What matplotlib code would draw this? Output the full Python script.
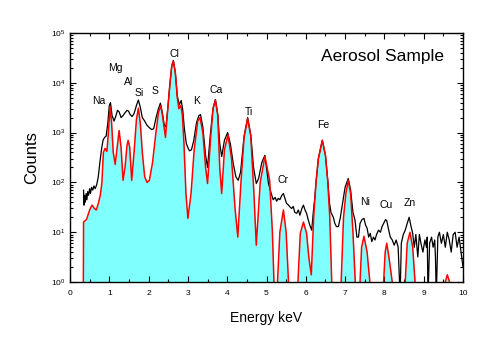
import matplotlib
matplotlib.use("Agg")
import matplotlib.pyplot as plt
from matplotlib.ticker import LogLocator, MultipleLocator

plt.rcParams['font.family'] = ['Liberation Sans', 'DejaVu Sans']

# fitted spectrum (red outline, cyan fill), energy in keV
fit_energy = [0.335, 0.345, 0.42, 0.50, 0.56, 0.62, 0.67, 0.72, 0.77, 0.81, 0.85, 0.89, 0.94,
              0.98, 1.02, 1.06, 1.10, 1.15, 1.20, 1.25, 1.30, 1.35, 1.40, 1.45, 1.48, 1.52,
              1.57, 1.63, 1.69, 1.74, 1.79, 1.84, 1.90, 1.96, 2.02, 2.10, 2.18, 2.25, 2.31,
              2.36, 2.43, 2.48, 2.54, 2.59, 2.63, 2.68, 2.73, 2.77, 2.82, 2.86, 2.90, 2.95,
              3.00, 3.08, 3.16, 3.25, 3.31, 3.38, 3.45, 3.50, 3.58, 3.64, 3.70, 3.76, 3.81,
              3.86, 3.93, 4.02, 4.11, 4.20, 4.27, 4.35, 4.43, 4.52, 4.60, 4.68, 4.74, 4.84,
              4.96, 5.08, 5.15, 5.19, 5.22, 5.28, 5.34, 5.43, 5.50, 5.56, 5.60, 5.76, 5.80,
              5.86, 5.94, 6.02, 6.08, 6.14, 6.20, 6.26, 6.32, 6.42, 6.50, 6.56, 6.61, 6.66,
              6.70, 6.86, 6.90, 6.96, 7.02, 7.08, 7.14, 7.20, 7.26, 7.29, 7.35, 7.38, 7.42,
              7.48, 7.56, 7.63, 7.66, 7.95, 7.98, 8.02, 8.06, 8.12, 8.20, 8.24, 8.50, 8.53,
              8.58, 8.65, 8.72, 8.78, 8.81, 9.52, 9.55, 9.60, 9.66, 9.69, 10.0]
fit_counts = [0.1, 16, 18, 28, 35, 30, 28, 38, 55, 95, 400, 480, 420,
              1100, 3300, 1500, 400, 230, 500, 1100, 500, 110, 200, 550, 700, 500,
              110, 400, 1800, 3100, 1500, 400, 130, 100, 110, 250, 900, 2500, 3500,
              2000, 800, 2500, 9000, 22000, 27000, 16000, 5000, 3000, 3500, 2200, 600, 60,
              19, 60, 450, 1700, 2000, 1000, 200, 95, 800, 3000, 4500, 2200, 200,
              60, 450, 900, 300, 30, 8, 100, 800, 1900, 850, 60, 5.5, 100,
              330, 110, 10, 1.0, 0.3, 1.0, 10, 28, 10, 1.0, 0.3, 0.3, 1.0,
              9.5, 16, 9.5, 3, 1.4, 20, 100, 300, 700, 350, 100, 20, 1.0,
              0.3, 0.3, 1.0, 20, 60, 110, 60, 10, 1.0, 0.3, 0.3, 1.0, 5,
              8.3, 4, 1.0, 0.3, 0.3, 1.0, 4, 6, 3, 1.0, 0.3, 0.3, 1.0,
              6, 10, 5, 1.0, 0.3, 0.3, 1.0, 1.4, 1.0, 0.3, 0.3]

# measured spectrum (black line)
meas_energy = [0.345, 0.355, 0.37, 0.39, 0.41, 0.43, 0.45, 0.47, 0.50, 0.52, 0.55, 0.58, 0.61,
               0.64, 0.68, 0.72, 0.76, 0.80, 0.84, 0.88, 0.92, 0.96, 1.00, 1.03, 1.07, 1.12,
               1.17, 1.21, 1.25, 1.30, 1.35, 1.40, 1.45, 1.49, 1.53, 1.58, 1.63, 1.69, 1.74,
               1.79, 1.84, 1.90, 1.96, 2.02, 2.08, 2.13, 2.19, 2.25, 2.30, 2.35, 2.40, 2.44,
               2.48, 2.54, 2.59, 2.63, 2.68, 2.73, 2.78, 2.83, 2.87, 2.91, 2.96, 3.00, 3.04,
               3.09, 3.15, 3.22, 3.28, 3.32, 3.38, 3.45, 3.50, 3.57, 3.64, 3.70, 3.76, 3.81,
               3.86, 3.93, 4.01, 4.08, 4.15, 4.22, 4.28, 4.34, 4.43, 4.52, 4.60, 4.67, 4.74,
               4.80, 4.88, 4.96, 5.05, 5.12, 5.17, 5.22, 5.26, 5.30, 5.34, 5.39, 5.43, 5.47,
               5.51, 5.56, 5.60, 5.64, 5.68, 5.72, 5.77, 5.81, 5.85, 5.90, 5.94, 5.98, 6.02,
               6.06, 6.10, 6.15, 6.19, 6.23, 6.26, 6.32, 6.42, 6.50, 6.56, 6.60, 6.64, 6.70,
               6.74, 6.78, 6.83, 6.88, 6.94, 7.00, 7.08, 7.14, 7.20, 7.25, 7.30, 7.34, 7.38,
               7.43, 7.48, 7.52, 7.56, 7.60, 7.64, 7.68, 7.72, 7.76, 7.80, 7.85, 7.90, 7.94,
               7.98, 8.03, 8.06, 8.10, 8.15, 8.20, 8.25, 8.30, 8.35, 8.40, 8.43, 8.48, 8.53,
               8.58, 8.63, 8.67, 8.72, 8.76, 8.80, 8.85, 8.89, 8.93, 8.98, 9.03, 9.07, 9.09,
               9.11, 9.15, 9.20, 9.24, 9.28, 9.30, 9.32, 9.36, 9.40, 9.45, 9.50, 9.55, 9.60,
               9.65, 9.70, 9.75, 9.80, 9.85, 9.90, 9.95, 10.0]
meas_counts = [70, 35, 55, 40, 60, 45, 65, 55, 75, 60, 80, 70, 85,
               75, 90, 130, 250, 450, 700, 800, 850, 1500, 3500, 4000, 2200, 1700,
               2200, 2800, 2600, 2000, 2200, 2500, 2800, 2700, 2300, 2100, 2400, 3500, 4500,
               3200, 2000, 1700, 1400, 1250, 1150, 1200, 2000, 3000, 3900, 2500, 1400, 1300,
               2600, 9000, 22000, 28000, 16000, 5500, 3600, 4400, 2800, 1200, 600, 500, 430,
               450, 700, 1600, 2200, 2300, 1300, 350, 200, 900, 3100, 4600, 2300, 600,
               330, 700, 1000, 600, 250, 130, 110, 160, 850, 2000, 900, 200, 95,
               120, 250, 350, 95, 60, 45, 50, 42, 48, 45, 55, 60, 48,
               38, 35, 32, 30, 33, 25, 24, 28, 22, 30, 35, 28, 24,
               18, 14, 11, 25, 50, 100, 300, 700, 350, 110, 40, 25, 20,
               15, 13, 13, 20, 40, 80, 120, 70, 25, 18, 8, 8, 15,
               18, 19, 14, 12, 8, 9.5, 6.5, 8, 7, 9, 11, 10, 13,
               15, 18, 17, 12, 8, 7, 5.5, 7, 5, 0.5, 6, 9, 11,
               15, 20, 14, 9.5, 5, 9, 3.2, 9, 6, 4, 7, 5, 8,
               0.5, 6, 8, 5, 7, 3, 0.5, 8, 10, 6, 9, 5, 10,
               7, 4, 9, 10, 5, 8, 4, 2]

# peak labels
label_names = ['Na', 'Mg', 'Al', 'Si', 'S', 'Cl', 'K', 'Ca', 'Ti', 'Cr', 'Fe', 'Ni', 'Cu', 'Zn']
label_energy = [0.72, 1.15, 1.48, 1.76, 2.17, 2.65, 3.22, 3.72, 4.56, 5.43, 6.45, 7.51, 8.04, 8.65]
label_counts = [4300, 19500, 10500, 6300, 6900, 37000, 4300, 7200, 2600, 112, 1400, 41, 35, 38]

fig = plt.figure(figsize=(5, 3.5), dpi=100)
ax = fig.add_axes([0.14, 0.194, 0.786, 0.712])

ax.fill_between(fit_energy, fit_counts, 0.01, color='#80ffff', lw=0)
ax.plot(meas_energy, meas_counts, color='black', lw=0.9)
ax.plot(fit_energy, fit_counts, color='red', lw=1.1)

for name, e, c in zip(label_names, label_energy, label_counts):
    ax.text(e, c, name, fontsize=7.5, ha='center', va='center')

ax.text(7.96, 33000, 'Aerosol Sample', fontsize=12.5, ha='center', va='center')

ax.set_yscale('log')
ax.set_xlim(0, 10)
ax.set_ylim(1, 1e5)
ax.xaxis.set_major_locator(MultipleLocator(1))
ax.xaxis.set_minor_locator(MultipleLocator(0.5))
ax.yaxis.set_major_locator(LogLocator(base=10, numticks=10))
ax.yaxis.set_minor_locator(LogLocator(base=10, subs=range(2, 10), numticks=10))
ax.tick_params(which='both', direction='in', top=True, right=True, labelsize=6, width=0.8)
ax.tick_params(which='major', length=4)
ax.tick_params(which='minor', length=2)
ax.tick_params(axis='x', pad=6)
for s in ax.spines.values():
    s.set_linewidth(1.0)

ax.set_xlabel('Energy keV', fontsize=10, labelpad=10)
ax.set_ylabel('Counts', fontsize=12, labelpad=8)

fig.savefig('out.png', dpi=100)
